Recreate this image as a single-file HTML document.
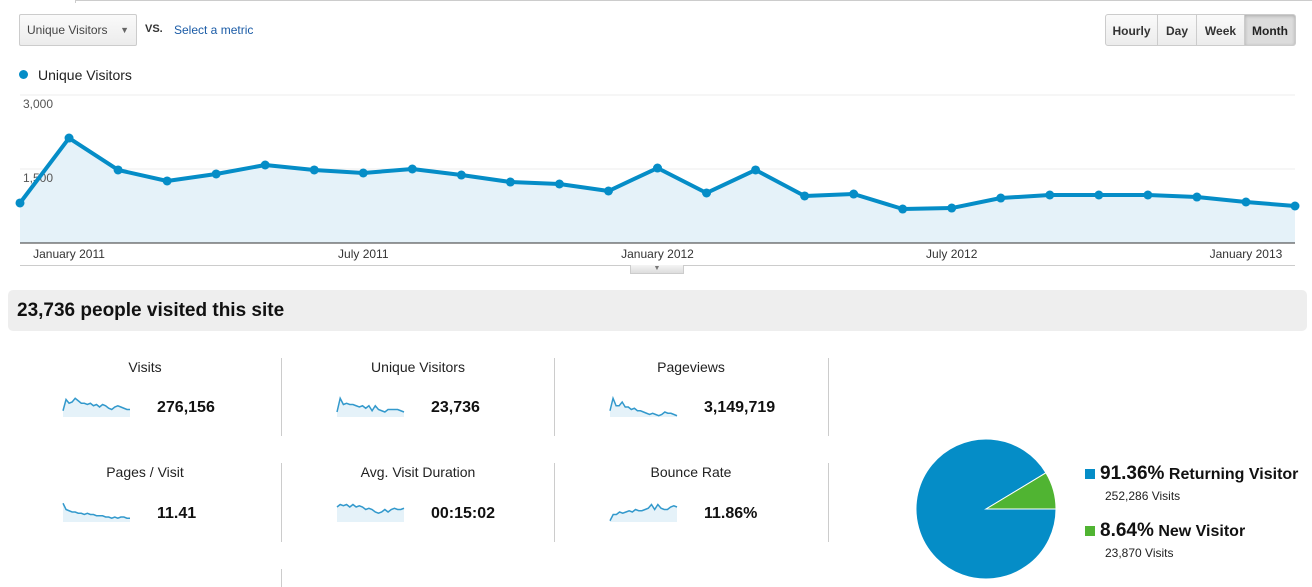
<!DOCTYPE html>
<html><head><meta charset="utf-8">
<style>
body{margin:0;width:1312px;height:587px;overflow:hidden;background:#fff;font-family:"Liberation Sans",Arial,sans-serif;position:relative}
.abs{position:absolute}
.btn{position:absolute;top:14px;height:32px;border:1px solid #ccc;background:linear-gradient(#fafafa,#ececec);font-size:12px;font-weight:bold;color:#333;line-height:32px;text-align:center;box-sizing:border-box}
.lbl{position:absolute;font-size:14px;color:#222;text-align:center;width:200px}
.val{position:absolute;font-size:16px;font-weight:bold;color:#111}
.sep{position:absolute;width:1px;background:#ccc}
</style></head><body>
<div class="abs" style="left:75px;top:0;width:1237px;height:2px;border-top:1px solid #ccc;border-left:1px solid #ccc"></div>
<div class="abs" style="left:19px;top:14px;width:118px;height:32px;border:1px solid #ccc;border-radius:2px;background:linear-gradient(#fafafa,#ececec);box-sizing:border-box;font-size:12px;color:#444;line-height:31px;padding-left:7px">Unique Visitors <span style="position:absolute;right:7px;top:0;font-size:9px;color:#666">▼</span></div>
<div class="abs" style="left:145px;top:23px;font-size:11px;font-weight:bold;color:#333">VS.</div>
<div class="abs" style="left:174px;top:23px;font-size:12px;color:#1a5ba6">Select a metric</div>
<div class="btn" style="left:1105px;width:53px;border-radius:3px 0 0 3px">Hourly</div>
<div class="btn" style="left:1157px;width:40px">Day</div>
<div class="btn" style="left:1196px;width:49px">Week</div>
<div class="btn" style="left:1244px;width:52px;background:#dcdcdc;color:#222;border-radius:0 3px 3px 0;box-shadow:inset 0 1px 3px #aaa">Month</div>
<div class="abs" style="left:19px;top:70px;width:9px;height:9px;border-radius:50%;background:#058dc7"></div>
<div class="abs" style="left:38px;top:67px;font-size:14px;color:#222">Unique Visitors</div>

<svg class="abs" style="left:0;top:0" width="1312" height="290" id="chart"></svg>
<div class="abs" style="left:630px;top:265px;width:54px;height:9px;background:linear-gradient(#f4f4f4,#ddd);border:1px solid #ccc;border-top:none;box-sizing:border-box;font-size:7px;color:#777;text-align:center;line-height:8px">▼</div>

<div class="abs" style="left:8px;top:290px;width:1299px;height:41px;background:#eee;border-radius:5px;font-size:19px;font-weight:bold;color:#111;line-height:41px;padding-left:9px;box-sizing:border-box">23,736 people visited this site</div>

<div class="lbl" style="left:45px;top:359px">Visits</div>
<div class="lbl" style="left:318px;top:359px">Unique Visitors</div>
<div class="lbl" style="left:591px;top:359px">Pageviews</div>
<div class="lbl" style="left:45px;top:464px">Pages / Visit</div>
<div class="lbl" style="left:318px;top:464px">Avg. Visit Duration</div>
<div class="lbl" style="left:591px;top:464px">Bounce Rate</div>
<div class="val" style="left:157px;top:399px">276,156</div>
<div class="val" style="left:431px;top:399px">23,736</div>
<div class="val" style="left:704px;top:399px">3,149,719</div>
<div class="val" style="left:157px;top:505px">11.41</div>
<div class="val" style="left:431px;top:505px">00:15:02</div>
<div class="val" style="left:704px;top:505px">11.86%</div>
<div class="sep" style="left:281px;top:358px;height:78px"></div>
<div class="sep" style="left:554px;top:358px;height:78px"></div>
<div class="sep" style="left:828px;top:358px;height:78px"></div>
<div class="sep" style="left:281px;top:463px;height:79px"></div>
<div class="sep" style="left:554px;top:463px;height:79px"></div>
<div class="sep" style="left:828px;top:463px;height:79px"></div>
<div class="sep" style="left:281px;top:569px;height:18px"></div>

<svg class="abs" style="left:0;top:340px" width="900" height="200" id="spark"></svg>
<svg class="abs" style="left:900px;top:420px" width="180" height="167" id="pie"></svg>

<div class="abs" style="left:1085px;top:469px;width:10px;height:10px;background:#058dc7"></div>
<div class="abs" style="left:1100px;top:463px;color:#111;font-weight:bold;white-space:nowrap"><span style="font-size:19px">91.36%</span> <span style="font-size:16px">Returning Visitor</span></div>
<div class="abs" style="left:1105px;top:489px;font-size:12px;color:#222">252,286 Visits</div>
<div class="abs" style="left:1085px;top:526px;width:10px;height:10px;background:#50b432"></div>
<div class="abs" style="left:1100px;top:520px;color:#111;font-weight:bold;white-space:nowrap"><span style="font-size:19px">8.64%</span> <span style="font-size:16px">New Visitor</span></div>
<div class="abs" style="left:1105px;top:546px;font-size:12px;color:#222">23,870 Visits</div>

<script>
const NS="http://www.w3.org/2000/svg";
const uniqueVisitors=[811,2128,1480,1257,1399,1581,1480,1419,1500,1378,1236,1196,1054,1520,1014,1480,953,993,689,709,912,973,973,973,932,831,750];
const yTicks=[1500,3000];
const yTickLabels=["1,500","3,000"];
const xLabelIdx=[1,7,13,19,25];
const xLabels=["January 2011","July 2011","January 2012","July 2012","January 2013"];
const sparkVisits=[5,14,11,12,15,13,11,11,10,11,9,10,8,10,9,7,6,8,9,8,7,6,6];
const sparkUnique=[4,15,10,11,10,10,9,8,9,7,9,5,9,6,5,4,6,6,6,6,5,4];
const sparkPageviews=[5,15,9,9,12,8,8,6,7,5,5,4,3,2,3,2,1,2,4,3,3,2,1];
const sparkPages=[15,10,9,8,8,7,7,6,7,6,6,5,5,5,4,4,3,4,3,4,4,3,3];
const sparkDuration=[12,14,13,14,12,14,12,13,12,10,11,10,8,7,8,10,8,10,11,10,10,11];
const sparkBounce=[1,6,6,8,7,8,9,8,10,9,9,10,11,14,10,14,11,10,10,12,13,12];
const pieValues=[91.36,8.64];
const pieColors=["#058dc7","#50b432"];

function mk(tag,attrs,parent){const e=document.createElementNS(NS,tag);for(const k in attrs)e.setAttribute(k,attrs[k]);parent.appendChild(e);return e;}
const chart=document.getElementById('chart');
const x0=20,x1=1295,yBase=243,pxPer=74/1500;
const xs=i=>x0+i*(x1-x0)/(uniqueVisitors.length-1);
const ys=v=>yBase-v*pxPer;
yTicks.forEach((t,i)=>{
  const g=mk('line',{x1:20,x2:1295,y1:ys(t),y2:ys(t),stroke:'#eee','stroke-width':1},chart);
  
  
});
let d=`M${xs(0)},${yBase}`;uniqueVisitors.forEach((v,i)=>d+=` L${xs(i)},${ys(v)}`);d+=` L${xs(uniqueVisitors.length-1)},${yBase} Z`;
const area=mk('path',{d:d,fill:'#e5f2f9'},chart);


yTicks.forEach((t,i)=>{
  const tx=mk('text',{x:23,y:ys(t)+13,'font-size':12,fill:'#555','font-family':'Liberation Sans, sans-serif'},chart);
  tx.textContent=yTickLabels[i];
  
  
});
const ax=mk('line',{x1:20,x2:1295,y1:yBase,y2:yBase,stroke:'#333','stroke-width':1},chart);


const bot=mk('line',{x1:20,x2:1295,y1:265.5,y2:265.5,stroke:'#ccc','stroke-width':1},chart);


const line=mk('polyline',{points:uniqueVisitors.map((v,i)=>xs(i)+','+ys(v)).join(' '),fill:'none',stroke:'#058dc7','stroke-width':4,'stroke-linejoin':'round'},chart);


uniqueVisitors.forEach((v,i)=>{
  const c=mk('circle',{cx:xs(i),cy:ys(v),r:4.5,fill:'#058dc7'},chart);
  
  
});
xLabelIdx.forEach((idx,i)=>{
  const t=mk('text',{x:xs(idx),y:258,'font-size':12,fill:'#333','text-anchor':'middle','font-family':'Liberation Sans, sans-serif'},chart);
  t.textContent=xLabels[i];
  
  
});

const sp=document.getElementById('spark');
function spark(arr,left,top){
  const w=67,h=20,max=16;
  const sx=i=>left+i*w/(arr.length-1), sy=v=>top+h-v/max*h;
  let d=`M${left},${top+h}`;arr.forEach((v,i)=>d+=` L${sx(i)},${sy(v)}`);d+=` L${left+w},${top+h} Z`;
  const a=mk('path',{d:d,fill:'#e5f2f9'},sp);
  
  
  const l=mk('polyline',{points:arr.map((v,i)=>sx(i)+','+sy(v)).join(' '),fill:'none',stroke:'#3399cc','stroke-width':1.5},sp);
  
  
}
spark(sparkVisits,63,57);spark(sparkUnique,337,57);spark(sparkPageviews,610,57);
spark(sparkPages,63,162);spark(sparkDuration,337,162);spark(sparkBounce,610,162);

const pie=document.getElementById('pie');
const cx=86,cy=89,r=70;const total=pieValues.reduce((a,b)=>a+b,0);
let ang=0;
pieValues.forEach((v,i)=>{
  const a0=ang,a1=ang+v/total*2*Math.PI;ang=a1;
  const p0=[cx+r*Math.cos(a0),cy+r*Math.sin(a0)],p1=[cx+r*Math.cos(a1),cy+r*Math.sin(a1)];
  const large=(a1-a0)>Math.PI?1:0;
  const s=mk('path',{d:`M${cx},${cy} L${p0[0]},${p0[1]} A${r},${r} 0 ${large} 1 ${p1[0]},${p1[1]} Z`,fill:pieColors[i],stroke:'#fff','stroke-width':1},pie);
  
  
});
</script>
</body></html>
